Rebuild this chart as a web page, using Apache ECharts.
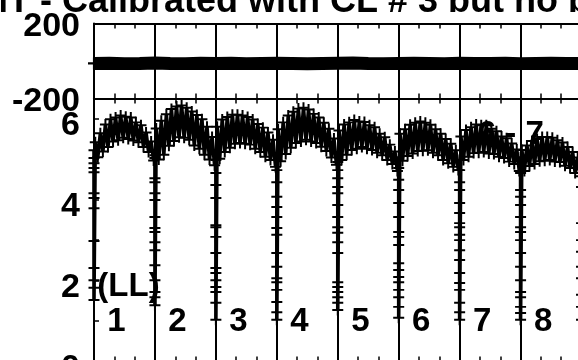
<!DOCTYPE html>
<html>
<head>
<meta charset="utf-8">
<script src="https://cdn.jsdelivr.net/npm/echarts@6/dist/echarts.min.js"></script>
<style>
  html, body { margin: 0; padding: 0; background: #fff; }
  #chart { width: 578px; height: 360px; }
</style>
</head>
<body>
<div id="chart"></div>
<script>
// ---- data ---------------------------------------------------------------
const titleText = 'PMT - Calibrated with CL # 3 but no background';

// upper panel: one flat trace, sampled every quarter segment
const topStep = 0.25;
const topValues = [-13, -12, -14, -13, -11, -13, -14, -12, -13, -12, -14, -13,
  -12, -13, -15, -13, -12, -11, -13, -14, -13, -12, -13, -14, -12, -13, -13,
  -12, -14, -13, -12, -13, -14, -13, -12];
const topYLabels = { '-200': '-200', '200': '200' };

// lower panel: each segment is a noisy arch; readings alternate between
// the high and low side of the scatter
const segHigh = [
  [5.42, 5.64, 5.86, 5.99, 6.03, 6.08, 6.05, 6.03, 5.91, 5.84, 5.66, 5.44],
  [5.76, 5.95, 6.11, 6.24, 6.30, 6.33, 6.27, 6.18, 6.09, 5.99, 5.80, 5.55],
  [5.80, 5.98, 6.04, 6.10, 6.10, 6.08, 6.04, 5.98, 5.87, 5.78, 5.66, 5.48],
  [5.74, 5.91, 6.08, 6.17, 6.25, 6.27, 6.23, 6.12, 6.03, 5.90, 5.75, 5.51],
  [5.71, 5.86, 5.91, 5.97, 5.93, 5.92, 5.84, 5.79, 5.63, 5.54, 5.36, 5.19],
  [5.63, 5.74, 5.85, 5.90, 5.93, 5.90, 5.85, 5.74, 5.63, 5.50, 5.38, 5.22],
  [5.56, 5.72, 5.79, 5.86, 5.84, 5.84, 5.75, 5.69, 5.56, 5.52, 5.39, 5.24],
  [5.23, 5.34, 5.45, 5.50, 5.55, 5.55, 5.53, 5.47, 5.41, 5.30, 5.18, 5.04]
];
const segLow = [
  [5.05, 5.19, 5.30, 5.44, 5.47, 5.53, 5.50, 5.46, 5.42, 5.30, 5.18, 4.97],
  [4.99, 5.11, 5.33, 5.45, 5.54, 5.53, 5.48, 5.34, 5.26, 5.11, 4.99, 4.85],
  [5.01, 5.18, 5.28, 5.38, 5.40, 5.38, 5.36, 5.26, 5.18, 5.06, 4.98, 4.81],
  [4.95, 5.13, 5.28, 5.40, 5.44, 5.48, 5.44, 5.40, 5.31, 5.20, 5.04, 4.86],
  [4.98, 5.11, 5.23, 5.26, 5.30, 5.26, 5.23, 5.16, 5.10, 4.98, 4.88, 4.71],
  [4.96, 5.08, 5.14, 5.20, 5.21, 5.22, 5.16, 5.10, 4.98, 4.90, 4.81, 4.73],
  [4.98, 5.06, 5.15, 5.16, 5.18, 5.14, 5.13, 5.06, 5.03, 4.94, 4.88, 4.71],
  [4.71, 4.83, 4.88, 4.95, 4.96, 4.98, 4.94, 4.93, 4.84, 4.78, 4.66, 4.58]
];
// readings taken right at each segment boundary (the sharp dips)
const boundaryDips = [
  [5.22, 5.03, 4.90, 4.78, 4.68, 4.16, 4.04, 3.79, 2.98, 2.31, 2.01, 1.82, 1.52],
  [5.10, 5.03, 4.53, 4.43, 4.16, 3.99, 3.57, 3.30, 3.20, 2.95, 2.75, 2.38, 2.01, 1.72, 1.59, 1.39],
  [4.98, 4.66, 4.36, 4.04, 3.37, 3.32, 3.08, 2.68, 2.31, 2.19, 2.01, 1.84, 1.72, 1.45, 1.03],
  [4.98, 4.73, 4.43, 4.07, 3.82, 3.57, 3.30, 3.13, 2.68, 2.34, 2.06, 1.96, 1.77, 1.47, 1.22, 1.03],
  [4.93, 4.73, 4.53, 4.31, 4.16, 3.87, 3.57, 3.32, 3.18, 2.95, 2.68, 1.96, 1.84, 1.72, 1.59, 1.45, 1.27],
  [5.05, 4.78, 4.49, 4.24, 3.92, 3.57, 3.20, 3.08, 2.88, 2.43, 2.26, 2.09, 1.96, 1.77, 1.59, 1.35, 1.08],
  [4.98, 4.73, 4.43, 4.24, 3.92, 3.67, 3.42, 3.32, 3.13, 3.00, 2.75, 2.51, 2.19, 1.94, 1.77, 1.45, 1.22, 1.03],
  [5.05, 4.66, 4.24, 4.07, 3.87, 3.57, 3.32, 3.20, 3.00, 2.68, 2.34, 2.01, 1.72, 1.59, 1.35, 1.20, 1.03],
  [4.66, 4.31, 3.42, 3.00, 2.71, 2.34, 2.06, 1.65, 1.35, 1.03]
];
const bottomYLabels = ['0', '2', '4', '6'];

// segment numbers and notes written inside the lower panel
const segmentNames = ['1', '2', '3', '4', '5', '6', '7', '8'];
const segmentNameOffset = 0.37;
const segmentNameLevel = 0.99;
const noteTexts = ['(LL)', '6 - 7'];
const notePositions = [[0.566, 1.84], [6.84, 5.6]];

// ---- build series input ------------------------------------------------
const topPoints = topValues.map((v, i) => [i * topStep, v]);

const bottomPoints = [];
for (let k = 0; k < segHigh.length; k++) {
  boundaryDips[k].forEach(v => bottomPoints.push([k, v]));
  const n = segHigh[k].length;
  for (let j = 0; j < n; j++) {
    bottomPoints.push([k + (2 * j + 0.5) / (2 * n), segHigh[k][j]]);
    bottomPoints.push([k + (2 * j + 1.5) / (2 * n), segLow[k][j]]);
  }
}
boundaryDips[segHigh.length].forEach(v => bottomPoints.push([segHigh.length, v]));

const labelItems = segmentNames.map((s, i) => [i + segmentNameOffset, segmentNameLevel]);
const labelTexts = segmentNames.slice();
notePositions.forEach((p, i) => { labelItems.push(p); labelTexts.push(noteTexts[i]); });

// ---- styling -------------------------------------------------------------
const FONT = '"Liberation Sans", Arial, Helvetica, sans-serif';
const PLUS = 'path://M4.1,0H5.9V4.1H10V5.9H5.9V10H4.1V5.9H0V4.1H4.1Z';
const LEFT = 94, SEG_PX = 60.94, SEGS = 9;
const black = '#000';

function xAxisDef(gridIndex, position, withGrid) {
  return {
    type: 'value', gridIndex, position, min: 0, max: SEGS, interval: 1,
    axisLine: { show: true, onZero: false, lineStyle: { color: black, width: 2 } },
    axisTick: { show: true, inside: true, length: 5, lineStyle: { color: black, width: 1.5 } },
    minorTick: { show: true, splitNumber: 3, length: 5, lineStyle: { color: black, width: 1.5 } },
    splitLine: { show: withGrid, lineStyle: { color: black, width: 2 } },
    axisLabel: { show: false }
  };
}

// tick labels sit a little below their ticks
function tickLabel(drop, lookup) {
  return {
    color: black, margin: 14,
    formatter: v => { const s = lookup(v); return s ? '{t|' + s + '}' : ''; },
    rich: { t: { fontSize: 34, fontWeight: 'bold', fontFamily: FONT, color: black, padding: [drop, 0, 0, 0] } }
  };
}

const chart = echarts.init(document.getElementById('chart'), null, { renderer: 'canvas' });
chart.setOption({
  animation: false,
  backgroundColor: '#fff',
  grid: [
    { left: LEFT, top: 23.5, width: SEGS * SEG_PX, height: 75, outerBoundsMode: 'none', containLabel: false },
    { left: LEFT, top: 98.5, width: SEGS * SEG_PX, height: 263, outerBoundsMode: 'none', containLabel: false }
  ],
  xAxis: [
    xAxisDef(0, 'bottom', true),
    xAxisDef(0, 'top', false),
    xAxisDef(1, 'bottom', true),
    xAxisDef(1, 'top', false)
  ],
  yAxis: [
    {
      type: 'value', gridIndex: 0, min: -200, max: 200, interval: 400,
      axisLine: { show: true, onZero: false, lineStyle: { color: black, width: 2 } },
      axisTick: { show: false }, splitLine: { show: false },
      axisLabel: tickLabel(6, v => topYLabels[String(v)])
    },
    {
      type: 'value', gridIndex: 1, min: 0, max: 6.5, interval: 2,
      axisLine: { show: true, onZero: false, lineStyle: { color: black, width: 2 } },
      axisTick: { show: true, inside: true, length: 5, lineStyle: { color: black, width: 1.5 } },
      minorTick: { show: true, splitNumber: 2, length: 5, lineStyle: { color: black, width: 1.5 } },
      splitLine: { show: false },
      axisLabel: tickLabel(14, v => bottomYLabels.indexOf(String(v)) >= 0 ? String(v) : '')
    }
  ],
  graphic: [{
    type: 'text', x: -46, y: 2.5, silent: true,
    style: { text: titleText, font: 'bold 36px ' + FONT, fill: black, align: 'left', verticalAlign: 'middle' }
  }],
  series: [
    {
      type: 'line', xAxisIndex: 0, yAxisIndex: 0, silent: true, clip: false, z: 3,
      data: topPoints.map((p, i) => i === 0 ? { value: p, symbol: PLUS, symbolSize: 12 } : { value: p }),
      symbol: 'none', showSymbol: true,
      lineStyle: { color: black, width: 13 }, itemStyle: { color: black, borderWidth: 0 }
    },
    {
      type: 'custom', xAxisIndex: 2, yAxisIndex: 1, silent: true, z: 1,
      data: labelItems,
      renderItem: (params, api) => {
        const p = api.coord([api.value(0), api.value(1)]);
        return {
          type: 'text', x: p[0], y: p[1],
          style: { text: labelTexts[params.dataIndex], font: 'bold 33px ' + FONT, fill: black, align: 'center', verticalAlign: 'middle' }
        };
      }
    },
    {
      type: 'line', xAxisIndex: 2, yAxisIndex: 1, silent: true, clip: false, z: 3,
      data: bottomPoints,
      symbol: PLUS, symbolSize: 11, showSymbol: true,
      lineStyle: { color: black, width: 3.6 }, itemStyle: { color: black, borderWidth: 0 }
    }
  ]
});
</script>
</body>
</html>
